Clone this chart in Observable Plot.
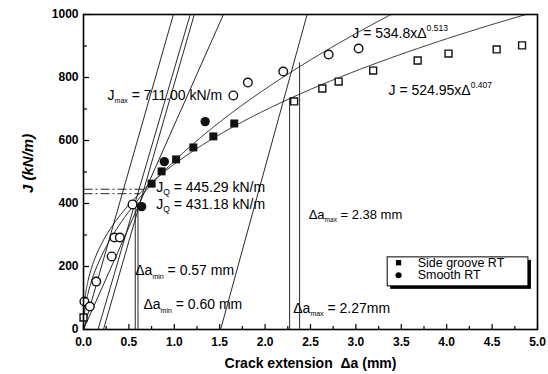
<!DOCTYPE html>
<html><head><meta charset="utf-8">
<script src="https://cdn.jsdelivr.net/npm/d3@7"></script>
<script src="https://cdn.jsdelivr.net/npm/@observablehq/plot@0.6"></script>
<style>
body{margin:0;background:#fff;}
#chart svg{font-family:"Liberation Sans",Arial,sans-serif;}
</style></head><body><div id="chart"></div>
<script>
// ---- Data ----
// Side groove RT (filled = valid, open = excluded)
const sgFilledDa = [0.75, 0.86, 1.02, 1.21, 1.43, 1.66];
const sgFilledJ  = [463, 502, 540, 578, 613, 654];
const sgOpenDa = [0.00, 2.32, 2.63, 2.81, 3.19, 3.68, 4.02, 4.55, 4.83];
const sgOpenJ  = [38, 724, 765, 787, 822, 854, 876, 889, 902];
// Smooth RT
const smFilledDa = [0.64, 0.89, 1.34];
const smFilledJ  = [390, 533, 660];
const smOpenDa = [0.01, 0.07, 0.14, 0.31, 0.34, 0.40, 0.54, 1.65, 1.81, 2.20, 2.70, 3.03];
const smOpenJ  = [89, 73, 152, 232, 292, 292, 397, 743, 784, 819, 873, 892];

// Power-law fits printed on the chart: J = C * Δa^n
const fitNames = ["Smooth RT", "Side groove RT"];
const fitCoef = [534.8, 524.95];
const fitExp = [0.513, 0.407];

// Construction lines: J = slope * (Δa - offset)
const lineOffsets = [0, 0, 0.16, 0.22, 1.51];
const lineSlopes = [1010, 649, 985, 1000, 1050];

// Δa min / max limits and the J where each vertical ends
const daLimits = [0.57, 0.60, 2.27, 2.38];
const daLimitTops = [400, 405, 737, 848];

// J_Q levels and the Δa where their dashed lines end
const jqValues = [445.29, 431.18];
const jqEnds = [0.68, 0.62];

// Axis ticks
const xTickLabels = [0, 0.5, 1, 1.5, 2, 2.5, 3, 3.5, 4, 4.5, 5];
const xMinorTicks = [0.25, 0.75, 1.25, 1.75, 2.25, 2.75, 3.25, 3.75, 4.25, 4.75];
const yTickLabels = [0, 200, 400, 600, 800, 1000];
const yMinorTicks = [100, 300, 500, 700, 900];

// Annotations (position in data units, font size, text parts with sub/sup)
const annoX = [0.265, 2.96, 3.36, 0.80, 0.80, 0.57, 0.66, 2.48, 2.31];
const annoY = [743, 940, 759, 451, 397, 187, 79, 365, 67];
const annoSize = [14, 14, 14, 14, 14, 14, 14, 13, 14];
const annoParts = [
  [["J"], ["max", "sub"], [" = 711.00 kN/m"]],
  [["J = 534.8xΔ"], ["0.513", "sup"]],
  [["J = 524.95xΔ"], ["0.407", "sup"]],
  [["J"], ["Q", "sub"], [" = 445.29 kN/m"]],
  [["J"], ["Q", "sub"], [" = 431.18 kN/m"]],
  [["Δa"], ["min", "sub"], [" = 0.57 mm"]],
  [["Δa"], ["min", "sub"], [" = 0.60 mm"]],
  [["Δa"], ["max", "sub"], [" = 2.38 mm"]],
  [["Δa"], ["max", "sub"], [" = 2.27mm"]]
];

// Legend
const legendLabels = ["Side groove RT", "Smooth RT"];
const legendSymbols = ["square", "circle"];
const legendBox = {x1: 3.35, x2: 4.90, y1: 137, y2: 229};
const legendMarkX = 3.47, legendTextX = 3.68;
const legendRowsJ = [212, 172];

const xLabel = "Crack extension  Δa (mm)";
const yLabel = "J (kN/m)";

// ---- Build tables ----
const pts = (xs, ys) => xs.map((x, i) => ({x, y: ys[i]}));
const curves = [];
fitNames.forEach((name, k) => {
  const end = Math.min(5, Math.pow(1000 / fitCoef[k], 1 / fitExp[k]));
  const xs = d3.range(0, 0.05, 0.001).concat(d3.range(0.05, end, 0.01), [end]);
  xs.forEach(x => curves.push({name, x, y: fitCoef[k] * Math.pow(x, fitExp[k])}));
});
const segs = lineOffsets.map((o, i) => ({x1: o, y1: 0, x2: o + 1000 / lineSlopes[i], y2: 1000}));
const verts = daLimits.map((x, i) => ({x, y1: 0, y2: daLimitTops[i]}));
const jqs = jqValues.map((y, i) => ({y, x1: 0, x2: jqEnds[i]}));
const annos = annoX.map((x, i) => ({x, y: annoY[i], s: annoSize[i], t: annoParts[i].map(p => p[0]).join("")}));
const legendRows = legendLabels.map((l, i) => ({l, s: legendSymbols[i], y: legendRowsJ[i]}));

const W = 548, H = 374, mL = 83, mR = 11, mT = 14, mB = 45;
const fw = W - mL - mR, fh = H - mT - mB;
const ink = "#111";

const chart = Plot.plot({
  width: W, height: H,
  marginLeft: mL, marginRight: mR, marginTop: mT, marginBottom: mB,
  style: {fontFamily: '"Liberation Sans", Arial, sans-serif', background: "#fff", color: "#000", overflow: "visible"},
  x: {domain: [0, 5]},
  y: {domain: [0, 1000]},
  marks: [
    Plot.line(curves, {x: "x", y: "y", z: "name", stroke: ink, strokeWidth: 0.9, clip: true}),
    Plot.link(segs, {x1: "x1", y1: "y1", x2: "x2", y2: "y2", stroke: ink, strokeWidth: 0.9, clip: true}),
    Plot.link(verts, {x1: "x", x2: "x", y1: "y1", y2: "y2", stroke: ink, strokeWidth: 0.9}),
    Plot.link(jqs, {x1: "x1", x2: "x2", y1: "y", y2: "y", stroke: ink, strokeWidth: 0.9, strokeDasharray: "9,3,2,3"}),
    // data points
    Plot.dot(pts(sgOpenDa, sgOpenJ), {x: "x", y: "y", symbol: "square", r: 3.9, fill: "#fff", stroke: ink, strokeWidth: 1.4}),
    Plot.dot(pts(smOpenDa, smOpenJ), {x: "x", y: "y", symbol: "circle", r: 4.3, fill: "#fff", stroke: ink, strokeWidth: 1.4}),
    Plot.dot(pts(sgFilledDa, sgFilledJ), {x: "x", y: "y", symbol: "square", r: 4.5, fill: ink, stroke: null}),
    Plot.dot(pts(smFilledDa, smFilledJ), {x: "x", y: "y", symbol: "circle", r: 4.7, fill: ink, stroke: null}),
    // annotations
    Plot.text(annos, {x: "x", y: "y", text: "t", textAnchor: "start", lineAnchor: "middle", fontSize: 14, fill: "#000"}),
    // legend
    Plot.rect([legendBox], {x1: "x1", x2: "x2", y1: "y1", y2: "y2", fill: "#000", dx: 3, dy: 3}),
    Plot.rect([legendBox], {x1: "x1", x2: "x2", y1: "y1", y2: "y2", fill: "#fff", stroke: "#000", strokeWidth: 1}),
    Plot.dot(legendRows, {x: () => legendMarkX, y: "y", symbol: "s", r: d => d.s === "square" ? 4.5 : 4.7, fill: "#000"}),
    Plot.text(legendRows, {x: () => legendTextX, y: "y", text: "l", textAnchor: "start", lineAnchor: "middle", fontSize: 12.5, fill: "#000"}),
    // frame and ticks
    Plot.frame({stroke: "#000", strokeWidth: 1.6}),
    Plot.tickX(xTickLabels, {x: d => d, insetTop: fh - 5, stroke: "#000", strokeWidth: 1.2}),
    Plot.tickX(xMinorTicks, {x: d => d, insetTop: fh - 3, stroke: "#000", strokeWidth: 1.2}),
    Plot.tickY(yTickLabels, {y: d => d, insetRight: fw - 6, stroke: "#000", strokeWidth: 1.2}),
    Plot.tickY(yMinorTicks, {y: d => d, insetRight: fw - 4, stroke: "#000", strokeWidth: 1.2}),
    Plot.axisX({ticks: xTickLabels, tickSize: 0, tickPadding: 8, tickFormat: d => d.toFixed(1), fontSize: 12, fontWeight: "bold", label: null}),
    Plot.axisY({ticks: yTickLabels, tickSize: 0, tickPadding: 5, tickFormat: d => String(d), fontSize: 12, fontWeight: "bold", label: null}),
    Plot.text([xLabel], {frameAnchor: "bottom", dy: 34, text: d => d, lineAnchor: "middle", fontSize: 14, fontWeight: "bold", fill: "#000"}),
    Plot.text([yLabel], {frameAnchor: "left", dx: -55, dy: 21, rotate: -90, text: d => d, lineAnchor: "middle", fontSize: 15, fontWeight: "bold", fontStyle: "italic", fill: "#000"})
  ]
});

// Rebuild annotation texts with sub/superscripts as tspans
const plainTexts = annos.map(a => a.t);
d3.select(chart).selectAll("text").each(function() {
  const i = plainTexts.indexOf(this.textContent);
  if (i < 0) return;
  const el = d3.select(this).attr("font-size", annoSize[i]).attr("fill", "#000");
  el.text(null);
  const k = annoSize[i] / 14;
  let shift = 0;
  for (const [t, kind] of annoParts[i]) {
    const ts = el.append("tspan").text(t).attr("fill", "#000");
    const target = kind === "sub" ? 3.5 * k : kind === "sup" ? -6.5 * k : 0;
    if (target - shift !== 0) ts.attr("dy", target - shift);
    shift = target;
    if (kind === "sub") ts.attr("font-size", (t === "Q" ? 8.5 : 7) * k);
    if (kind === "sup") ts.attr("font-size", 8.5 * k);
  }
});

document.getElementById("chart").appendChild(chart);
</script>
</body></html>
